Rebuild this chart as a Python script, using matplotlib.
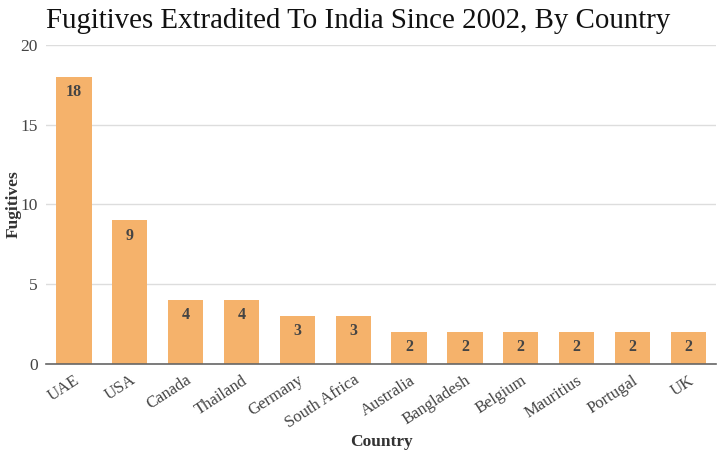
import matplotlib
matplotlib.use("Agg")
import matplotlib.pyplot as plt

countries = ["UAE", "USA", "Canada", "Thailand", "Germany", "South Africa",
             "Australia", "Bangladesh", "Belgium", "Mauritius", "Portugal", "UK"]
fugitives = [18, 9, 4, 4, 3, 3, 2, 2, 2, 2, 2, 2]
y_ticks = [0, 5, 10, 15, 20]

plt.rcParams['font.family'] = ['Liberation Serif', 'DejaVu Serif']

fig = plt.figure(figsize=(7.27, 4.59), dpi=100)
ax = fig.add_axes([0.0633, 0.207, 0.922, 0.695])

x = range(len(countries))
bars = ax.bar(x, fugitives, width=0.63, color='#f5b26b', zorder=3)

for xi, v in zip(x, fugitives):
    ax.text(xi, v - 0.45, str(v), ha='center', va='top', fontsize=11.5,
            fontweight='bold', color='#444444', zorder=4)

ax.set_xlim(-0.5, len(countries) - 0.5)
ax.set_ylim(0, 20)
ax.set_yticks(y_ticks)
ax.set_xticks(list(x))
ax.set_xticklabels(countries, rotation=33, ha='right', rotation_mode='anchor',
                   fontsize=12, color='#444444')
ax.tick_params(axis='y', labelsize=12.5, colors='#444444', length=0, pad=6)
ax.tick_params(axis='x', length=0, pad=6)

ax.grid(axis='y', color='#dddddd', linewidth=1, zorder=0)
for s in ['top', 'right', 'left']:
    ax.spines[s].set_visible(False)
ax.spines['bottom'].set_color('#666666')
ax.spines['bottom'].set_linewidth(1.2)
ax.spines['bottom'].set_zorder(5)

ax.set_ylabel('Fugitives', fontsize=12.5, fontweight='bold', color='#333333')
ax.yaxis.set_label_coords(-0.037, 0.5)
ax.set_xlabel('Country', fontsize=12.5, fontweight='bold', color='#333333')
ax.xaxis.set_label_coords(0.5, -0.22)

fig.text(0.063, 0.955, 'Fugitives Extradited To India Since 2002, By Country',
         fontsize=20.8, ha='left', va='center', color='#111111')

fig.savefig('out.png', dpi=100)
